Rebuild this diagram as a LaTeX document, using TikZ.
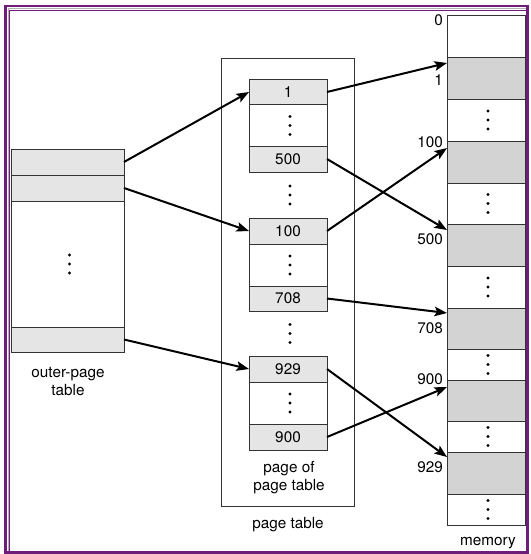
\documentclass[tikz,border=0pt]{standalone}
\usepackage{fontspec}
\setmainfont{TeX Gyre Heros}
\usetikzlibrary{arrows.meta,calc}
\definecolor{framepurple}{HTML}{6E1E78}
\definecolor{lightrow}{HTML}{E5E5E5}
\definecolor{memrow}{HTML}{D3D3D3}
\definecolor{boxline}{HTML}{333333}
\newcommand\vdotsnode[1]{\foreach \s in {-9,0,9}{\fill[black] ([xshift=2pt,yshift=\s pt]#1) circle (1.6pt);}}
\begin{document}
\begin{tikzpicture}[x=1pt,y=-1pt,
  font=\fontsize{15.3}{18}\selectfont,
  cell/.style={draw=boxline, line width=0.9pt, inner sep=0pt, outer sep=0pt, anchor=center},
  ptcell/.style={cell, minimum width=78pt},
  pgray/.style={ptcell, fill=lightrow, minimum height=26pt},
  pwhite/.style={ptcell, fill=white, minimum height=42pt},
  mcell/.style={cell, minimum width=78pt},
  mgray/.style={mcell, fill=memrow},
  mwhite/.style={mcell, fill=white},
  ocell/.style={cell, minimum width=113pt},
  ptr/.style={line width=2pt, -{Stealth[length=12.5pt,width=9.5pt,inset=2.5pt]}},
  lbl/.style={inner sep=0pt, anchor=east},
  caption/.style={inner sep=0pt, align=center}]
% background and bounding box
\fill[white] (0,0) rectangle (530,554);
\useasboundingbox (0,0) rectangle (530,554);
% frame
\draw[framepurple, line width=2.6pt] (5.5,6) rectangle (527.5,552.5);
\draw[gray!60, line width=0.6pt] (7.8,551) -- (7.8,8.3) -- (526,8.3);
\draw[framepurple, line width=0.8pt] (9.8,551) -- (9.8,10.5) -- (526,10.5);

% outer-page table
\node[ocell, fill=lightrow, minimum height=26pt] (o1) at (67.5,162) {};
\node[ocell, fill=lightrow, minimum height=26pt] (o2) at (67.5,188) {};
\node[ocell, fill=white, minimum height=126pt] (ow) at (67.5,264) {};
\node[ocell, fill=lightrow, minimum height=25pt] (o3) at (67.5,339.5) {};
\vdotsnode{ow.center}
\node[caption] (olbl) at (68,381) {outer-page\\table};

% page table frame
\draw[boxline, line width=0.9pt] (221,58) rectangle (354,506);
\node[caption] (ptlbl) at (288,525) {page table};

% page of page table
\node[pgray] (p1) at (288,92) {1};
\node[pwhite] (pw1) at (288,125.5) {};
\node[pgray] (p500) at (288,159) {500};
\node[pgray] (p100) at (288,231) {100};
\node[pwhite] (pw2) at (288,265) {};
\node[pgray, minimum height=25pt] (p708) at (288,298.5) {708};
\node[pgray] (p929) at (288,369) {929};
\node[pwhite] (pw3) at (288,403) {};
\node[pgray] (p900) at (288,437) {900};
\coordinate (g1) at (288,195);
\coordinate (g2) at (288,333.5);
\vdotsnode{pw1.center}
\vdotsnode{pw2.center}
\vdotsnode{pw3.center}
\vdotsnode{g1}
\vdotsnode{g2}
\node[caption] (poplbl) at (289,477.5) {page of\\page table};

% memory
\node[mwhite, minimum height=42pt] (m0) at (486,36) {};
\node[mgray, minimum height=42pt] (m1) at (486,78) {};
\node[mwhite, minimum height=42pt] (mw1) at (486,120) {};
\node[mgray, minimum height=42pt] (m100) at (486,162) {};
\node[mwhite, minimum height=41pt] (mw2) at (486,203.5) {};
\node[mgray, minimum height=42pt] (m500) at (486,245) {};
\node[mwhite, minimum height=42pt] (mw3) at (486,287) {};
\node[mgray, minimum height=41pt] (m708) at (486,328.5) {};
\node[mwhite, minimum height=31pt] (mw4) at (486,364.5) {};
\node[mgray, minimum height=41pt] (m900) at (486,400.5) {};
\node[mwhite, minimum height=31pt] (mw5) at (486,436.5) {};
\node[mgray, minimum height=42pt] (m929) at (486,473) {};
\node[mwhite, minimum height=31pt] (mw6) at (486,509.5) {};
\vdotsnode{mw1.center}
\vdotsnode{mw2.center}
\vdotsnode{mw3.center}
\vdotsnode{mw4.center}
\vdotsnode{mw5.center}
\vdotsnode{mw6.center}
\node[caption] (memlbl) at (488,543) {memory};

% memory address labels
\node[lbl] (a0) at (443,20) {0};
\node[lbl] (a1) at (443,80) {1};
\node[lbl] (a100) at (443,142) {100};
\node[lbl] (a500) at (443,239) {500};
\node[lbl] (a708) at (443,328) {708};
\node[lbl] (a900) at (443,379) {900};
\node[lbl] (a929) at (443,467) {929};

% pointers: outer table -> page of page table
\draw[ptr] (o1.east) -- (p1.west);
\draw[ptr] (o2.east) -- (p100.west);
\draw[ptr] (o3.east) -- (p929.west);
% pointers: page of page table -> memory
\draw[ptr] (p1.east) -- ([yshift=-6pt]m1.north west);
\draw[ptr] (p500.east) -- ([yshift=-6pt]m500.north west);
\draw[ptr] (p100.east) -- ([yshift=-7pt]m100.north west);
\draw[ptr] (p708.east) -- ([yshift=-5pt]m708.north west);
\draw[ptr] (p929.east) -- ([yshift=-5pt]m929.north west);
\draw[ptr] (p900.east) -- ([yshift=-7pt]m900.north west);
\end{tikzpicture}
\end{document}
